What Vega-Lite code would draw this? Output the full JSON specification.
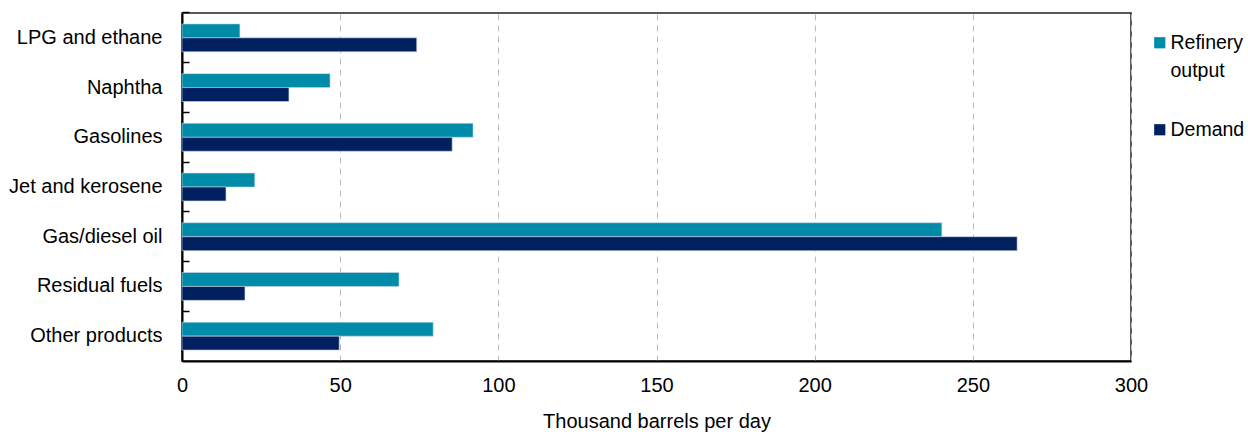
{
  "$schema": "https://vega.github.io/schema/vega-lite/v6.json",
  "autosize": "none",
  "width": 949,
  "height": 348,
  "padding": {"left": 182, "top": 13, "right": 117, "bottom": 71},
  "background": "white",
  "config": {
    "font": "Liberation Sans",
    "view": {"stroke": "#222", "strokeWidth": 1.5},
    "axis": {"labelFont": "Liberation Sans", "titleFont": "Liberation Sans", "labelColor": "#000", "titleColor": "#000"},
    "legend": {"labelFont": "Liberation Sans"},
    "style": {"guide-label": {"lineHeight": 28}}
  },
  "data": {
    "values": [
      {"product": "LPG and ethane", "series": "Refinery output", "value": 18.3},
      {"product": "LPG and ethane", "series": "Demand", "value": 74.2},
      {"product": "Naphtha", "series": "Refinery output", "value": 46.8},
      {"product": "Naphtha", "series": "Demand", "value": 33.8},
      {"product": "Gasolines", "series": "Refinery output", "value": 92.0},
      {"product": "Gasolines", "series": "Demand", "value": 85.4},
      {"product": "Jet and kerosene", "series": "Refinery output", "value": 23.0},
      {"product": "Jet and kerosene", "series": "Demand", "value": 13.9},
      {"product": "Gas/diesel oil", "series": "Refinery output", "value": 240.2},
      {"product": "Gas/diesel oil", "series": "Demand", "value": 264.0},
      {"product": "Residual fuels", "series": "Refinery output", "value": 68.6},
      {"product": "Residual fuels", "series": "Demand", "value": 19.9},
      {"product": "Other products", "series": "Refinery output", "value": 79.4},
      {"product": "Other products", "series": "Demand", "value": 49.7}
    ]
  },
  "mark": {"type": "bar", "stroke": "#c8d4e6", "strokeWidth": 0.6},
  "encoding": {
    "y": {
      "field": "product",
      "type": "nominal",
      "sort": ["LPG and ethane", "Naphtha", "Gasolines", "Jet and kerosene", "Gas/diesel oil", "Residual fuels", "Other products"],
      "scale": {"paddingInner": 0.44, "paddingOuter": 0.22},
      "axis": {
        "title": null,
        "bandPosition": -0.393,
        "ticks": true,
        "tickSize": -7,
        "tickColor": "#000",
        "tickWidth": 1.5,
        "domainColor": "#000",
        "domainWidth": 2,
        "labelFontSize": 20,
        "labelPadding": 27,
        "grid": false
      }
    },
    "yOffset": {
      "field": "series",
      "type": "nominal",
      "sort": ["Refinery output", "Demand"],
      "scale": {"paddingInner": 0, "paddingOuter": 0}
    },
    "x": {
      "field": "value",
      "type": "quantitative",
      "scale": {"domain": [0, 300], "nice": false},
      "axis": {
        "title": "Thousand barrels per day",
        "titleFontSize": 20,
        "titleFontWeight": "normal",
        "titlePadding": 16,
        "values": [0, 50, 100, 150, 200, 250, 300],
        "ticks": false,
        "labelFlush": false,
        "labelFontSize": 20,
        "labelPadding": 14,
        "domainColor": "#000",
        "domainWidth": 2,
        "grid": true,
        "gridColor": "#bbbbbb",
        "gridDash": [6, 5],
        "gridWidth": 1
      }
    },
    "color": {
      "field": "series",
      "type": "nominal",
      "sort": ["Refinery output", "Demand"],
      "scale": {"domain": ["Refinery output", "Demand"], "range": ["#008BA8", "#002060"]},
      "legend": {
        "title": null,
        "orient": "none",
        "legendX": 968,
        "legendY": 20,
        "symbolType": "square",
        "symbolSize": 125,
        "symbolStrokeWidth": 0,
        "labelFontSize": 19.5,
        "labelOffset": 1,
        "labelLimit": 200,
        "rowPadding": 38,
        "labelExpr": "datum.label == 'Refinery output' ? ['Refinery', 'output'] : datum.label"
      }
    }
  }
}
